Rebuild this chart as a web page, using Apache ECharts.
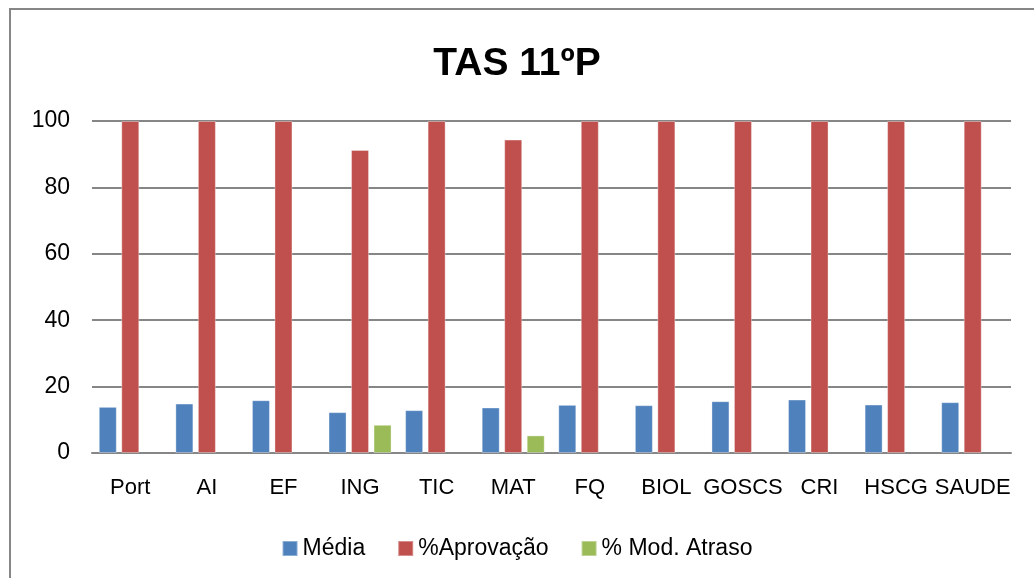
<!DOCTYPE html>
<html>
<head>
<meta charset="utf-8">
<script src="https://cdn.jsdelivr.net/npm/echarts@6/dist/echarts.min.js"></script>
<style>
  html, body { margin: 0; padding: 0; background: #fff; }
  #chart { width: 1034px; height: 578px; }
</style>
</head>
<body>
<div id="chart"></div>
<script>
// data
var categories = ["Port", "AI", "EF", "ING", "TIC", "MAT", "FQ", "BIOL", "GOSCS", "CRI", "HSCG", "SAUDE"];
var media = [13.9, 14.9, 15.9, 12.3, 12.9, 13.7, 14.5, 14.4, 15.6, 16.1, 14.6, 15.3];
var aprovacao = [100, 100, 100, 91.3, 100, 94.4, 100, 100, 100, 100, 100, 100];
var modAtraso = [null, null, null, 8.5, null, 5.3, null, null, null, null, null, null];
var yTicks = [0, 20, 40, 60, 80, 100];

var font = "'Liberation Sans', Arial, sans-serif";
var barBorder = "rgba(255,255,255,0.35)";

var chart = echarts.init(document.getElementById("chart"));
chart.setOption({
  animation: false,
  textStyle: { fontFamily: font },
  title: {
    text: "TAS 11ºP",
    left: "center",
    top: 40,
    textStyle: { fontSize: 39, fontWeight: "bold", color: "#000", fontFamily: font }
  },
  legend: {
    top: 532,
    left: "center",
    itemWidth: 15,
    itemHeight: 15,
    itemGap: 32,
    icon: "rect",
    textStyle: { fontSize: 23, color: "#000", fontFamily: font },
    data: ["Média", "%Aprovação", "% Mod. Atraso"]
  },
  grid: {
    left: 92,
    right: 23,
    top: 121,
    bottom: 125,
    containLabel: false
  },
  xAxis: {
    type: "category",
    data: categories,
    axisLine: { lineStyle: { color: "#868686", width: 2 } },
    axisTick: { show: false },
    axisLabel: { fontSize: 22, color: "#000", margin: 24, interval: 0 }
  },
  yAxis: {
    type: "value",
    min: yTicks[0],
    max: yTicks[yTicks.length - 1],
    interval: 20,
    axisLine: { show: false },
    axisTick: { show: false },
    axisLabel: { fontSize: 23, color: "#000", margin: 22 },
    splitLine: { lineStyle: { color: "#868686", width: 2 } }
  },
  series: [
    {
      name: "Média",
      type: "bar",
      data: media,
      barWidth: 18,
      barGap: "25%",
      itemStyle: { color: "#4f81bd", borderColor: barBorder, borderWidth: 1 }
    },
    {
      name: "%Aprovação",
      type: "bar",
      data: aprovacao,
      barWidth: 18,
      barGap: "25%",
      itemStyle: { color: "#c0504d", borderColor: barBorder, borderWidth: 1 }
    },
    {
      name: "% Mod. Atraso",
      type: "bar",
      data: modAtraso,
      barWidth: 18,
      barGap: "25%",
      itemStyle: { color: "#9bbb59", borderColor: barBorder, borderWidth: 1 }
    }
  ],
  graphic: [
    {
      type: "polyline",
      silent: true,
      shape: { points: [[10, 578], [10, 9], [1034, 9]] },
      style: { stroke: "#868686", lineWidth: 2, fill: null }
    }
  ]
});
</script>
</body>
</html>
